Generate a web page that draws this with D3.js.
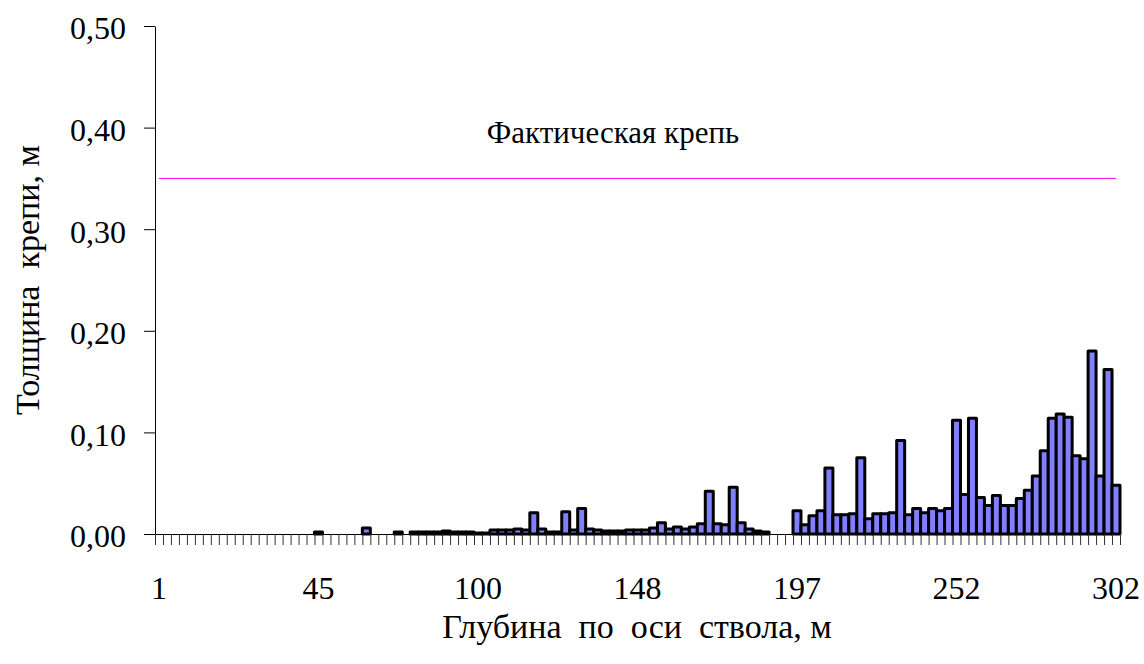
<!DOCTYPE html>
<html>
<head>
<meta charset="utf-8">
<script src="https://cdn.jsdelivr.net/npm/d3@7"></script>
<style>
  body { margin: 0; background: #fff; }
  text { font-family: "Liberation Serif", "Times New Roman", serif; fill: #000; }
</style>
</head>
<body>
<script>
// bar values (thickness of lining, m), one per depth step
const thickness = [
  0, 0, 0, 0, 0, 0, 0, 0, 0, 0, 0, 0, 0, 0, 0, 0, 0, 0, 0, 0,
  0.002, 0, 0, 0, 0, 0, 0.006, 0, 0, 0, 0.002, 0, 0.002, 0.002, 0.002, 0.002, 0.003, 0.002, 0.002, 0.002,
  0.001, 0.001, 0.004, 0.004, 0.004, 0.005, 0.004, 0.021, 0.005, 0.002, 0.002, 0.022, 0.004, 0.025, 0.005, 0.004, 0.003, 0.003, 0.003, 0.004,
  0.004, 0.004, 0.006, 0.011, 0.005, 0.007, 0.005, 0.007, 0.010, 0.042, 0.010, 0.009, 0.046, 0.011, 0.005, 0.003, 0.002, 0, 0, 0,
  0.023, 0.009, 0.018, 0.023, 0.065, 0.019, 0.019, 0.020, 0.075, 0.015, 0.020, 0.020, 0.021, 0.092, 0.019, 0.025, 0.021, 0.025, 0.023, 0.025,
  0.112, 0.039, 0.114, 0.036, 0.028, 0.038, 0.028, 0.028, 0.035, 0.043, 0.057, 0.082, 0.114, 0.118, 0.115, 0.077, 0.074, 0.180, 0.057, 0.162, 0.048
];
const depthLabels = ["1", "45", "100", "148", "197", "252", "302"]; // shown every 20th category
const labelStep = 20;
const yTicks = [0, 0.1, 0.2, 0.3, 0.4, 0.5];
const factLevel = 0.35; // фактическая крепь
const factName = "Фактическая крепь";
const xTitle = "Глубина\u00a0 по\u00a0 оси\u00a0 ствола, м";
const yTitle = "Толщина\u00a0 крепи, м";

function drawChart() {
    const W = 1144, H = 664;
    const left = 155, right = 1120, top = 26, bottom = 534;
    const fontSize = "32px";

    let svg = d3.select("body").append("svg")
        .attr("width", W)
        .attr("height", H);

    const idx = d3.range(thickness.length);
    let x = d3.scaleBand().domain(idx).range([left, right]).paddingInner(0);
    let xb = d3.scaleLinear().domain([0, thickness.length]).range([left, right]); // category borders
    let y = d3.scaleLinear().domain([0, 0.5]).range([bottom, top]);

    const fmt = d => d3.format(".2f")(d).replace(".", ",");

    // y axis
    svg.append("g")
        .attr("transform", `translate(${left},0)`)
        .call(d3.axisLeft(y).tickValues(yTicks).tickFormat(fmt).tickSize(11).tickSizeOuter(0).tickPadding(18))
        .call(g => g.selectAll("text").style("font-size", fontSize).attr("dy", "0.4em"))
        .call(g => g.selectAll("line,path").attr("stroke", "#000"));

    // bars
    svg.selectAll(".bar")
        .data(idx.filter(i => thickness[i] > 0))
        .enter()
        .append("rect")
        .attr("class", "bar")
        .attr("x", i => x(i))
        .attr("width", x.bandwidth())
        .attr("y", i => y(thickness[i]))
        .attr("height", i => y(0) - y(thickness[i]))
        .attr("fill", "#8080ff")
        .attr("stroke", "#000")
        .attr("stroke-width", 3)
        .attr("stroke-linejoin", "round");

    // x axis: tick marks at category borders
    svg.append("g")
        .attr("transform", `translate(0,${bottom})`)
        .call(d3.axisBottom(xb).tickValues(d3.range(thickness.length + 1)).tickFormat("").tickSize(11).tickSizeOuter(0))
        .call(g => g.selectAll("line").attr("stroke", "#333"))
        .call(g => g.select("path").attr("stroke", "#000"));

    // x axis labels centred in their categories
    svg.append("g")
        .attr("transform", `translate(0,${bottom})`)
        .call(d3.axisBottom(x).tickValues(idx.filter(i => i % labelStep === 0))
            .tickFormat(i => depthLabels[i / labelStep]).tickSize(0).tickPadding(42))
        .call(g => g.select("path").remove())
        .call(g => g.selectAll("text").style("font-size", fontSize));

    // constant line for actual lining
    svg.append("path")
        .datum([0, thickness.length - 1])
        .attr("d", d3.line().x(i => x(i) + x.bandwidth() / 2).y(() => y(factLevel)))
        .attr("stroke", "#ff00ff")
        .attr("stroke-width", 1)
        .attr("fill", "none");

    svg.append("text")
        .attr("x", 613)
        .attr("y", 143)
        .attr("text-anchor", "middle")
        .style("font-size", "31px")
        .text(factName);

    // axis titles
    svg.append("text")
        .attr("x", 637)
        .attr("y", 638)
        .attr("text-anchor", "middle")
        .style("font-size", "34px")
        .text(xTitle);

    svg.append("text")
        .attr("transform", `translate(39,${(top + bottom) / 2}) rotate(-90)`)
        .attr("text-anchor", "middle")
        .style("font-size", "34px")
        .text(yTitle);
}

document.addEventListener("DOMContentLoaded", drawChart);
</script>
</body>
</html>
